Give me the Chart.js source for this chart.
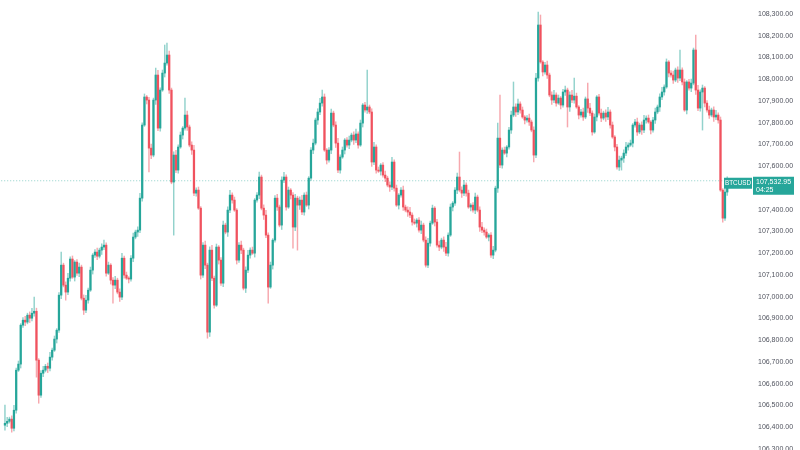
<!DOCTYPE html>
<html>
<head>
<meta charset="utf-8">
<script src="https://cdn.jsdelivr.net/npm/chart.js@4.4.1/dist/chart.umd.min.js"></script>
<style>
  html, body { margin: 0; padding: 0; background: #ffffff; }
  #graphique-btc { display: block; }
</style>
</head>
<body>
<canvas id="graphique-btc" width="800" height="450"></canvas>
<script>
const symbol = "BTCUSD";
const timeLeft = "04:25";

// one candle per index
const opens = [
  106409, 106418, 106427, 106437, 106395, 106478, 106662, 106690, 106869, 106892,
  106883, 106915, 106901, 106924, 106933, 106708, 106547, 106648, 106662, 106680,
  106671, 106722, 106754, 106805, 106846, 107007, 107145, 107053, 107021, 107085,
  107173, 107090, 107159, 107108, 107136, 106993, 106938, 106984, 107030, 107122,
  107191, 107205, 107186, 107214, 107228, 107237, 107108, 107145, 107076, 107053,
  107076, 107021, 106998, 107177, 107099, 107085, 107081, 107177, 107274, 107297,
  107306, 107453, 107789, 107918, 107904, 107683, 107651, 107904, 108019, 107775,
  107950, 108028, 108074, 108111, 107950, 107527, 107651, 107582, 107688, 107743,
  107775, 107835, 107780, 107697, 107674, 107476, 107490, 107407, 107099, 107237,
  107145, 106837, 107214, 107085, 106961, 107228, 107168, 107062, 107329, 107297,
  107398, 107467, 107444, 107398, 107168, 107237, 107214, 107039, 107122, 107191,
  107214, 107200, 107444, 107467, 107550, 107407, 107375, 107283, 107044, 107145,
  107260, 107453, 107412, 107329, 107536, 107550, 107412, 107490, 107467, 107320,
  107453, 107421, 107444, 107389, 107467, 107421, 107545, 107674, 107706, 107812,
  107849, 107890, 107918, 107674, 107628, 107674, 107844, 107789, 107706, 107582,
  107642, 107674, 107720, 107697, 107720, 107743, 107720, 107748, 107697, 107798,
  107881, 107858, 107872, 107849, 107619, 107688, 107582, 107577, 107605, 107559,
  107545, 107513, 107504, 107619, 107499, 107421, 107467, 107490, 107412, 107398,
  107389, 107375, 107343, 107338, 107352, 107306, 107329, 107260, 107145, 107246,
  107338, 107407, 107343, 107237, 107228, 107260, 107228, 107200, 107283, 107412,
  107430, 107490, 107550, 107490, 107476, 107513, 107476, 107412, 107421, 107398,
  107458, 107398, 107320, 107306, 107297, 107274, 107283, 107191, 107214, 107499,
  107729, 107605, 107674, 107660, 107688, 107766, 107835, 107872, 107849, 107886,
  107858, 107826, 107812, 107821, 107803, 107766, 107651, 108005, 108249, 108079,
  108033, 108065, 108019, 107927, 107904, 107927, 107890, 107913, 107881, 107941,
  107950, 107872, 107927, 107904, 107922, 107872, 107835, 107849, 107826, 107909,
  107867, 107844, 107757, 107826, 107918, 107844, 107821, 107844, 107826, 107849,
  107789, 107734, 107688, 107596, 107628, 107637, 107660, 107688, 107697, 107706,
  107789, 107803, 107757, 107789, 107766, 107812, 107821, 107803, 107766, 107812,
  107849, 107872, 107918, 107941, 107964, 108079, 108028, 108019, 107996, 108042,
  108005, 108042, 107987, 107858, 107987, 107959, 107982, 108134, 107950, 107867,
  107941, 107959, 107890, 107858, 107835, 107858, 107826, 107835, 107812, 107490,
  107361, 107481
];
const highs = [
  106501, 106445, 106446, 106452, 106500, 106672, 106704, 106876, 106904, 106910,
  106924, 106930, 106946, 106998, 106947, 106715, 106660, 106680, 106689, 106695,
  106744, 106764, 106819, 106853, 107019, 107205, 107154, 107068, 107107, 107183,
  107187, 107166, 107171, 107154, 107145, 107008, 107006, 107040, 107136, 107198,
  107217, 107223, 107223, 107243, 107260, 107247, 107159, 107152, 107088, 107094,
  107085, 107036, 107199, 107187, 107113, 107092, 107189, 107292, 107306, 107321,
  107475, 107799, 107932, 107925, 107916, 107701, 107913, 108051, 108041, 107960,
  108042, 108157, 108166, 108129, 107959, 107666, 107673, 107698, 107757, 107782,
  107913, 107853, 107789, 107712, 107696, 107500, 107504, 107414, 107249, 107255,
  107154, 107229, 107236, 107095, 107242, 107235, 107180, 107347, 107338, 107413,
  107489, 107477, 107458, 107405, 107249, 107255, 107223, 107137, 107213, 107224,
  107228, 107451, 107479, 107573, 107559, 107422, 107397, 107293, 107159, 107267,
  107465, 107471, 107421, 107551, 107572, 107560, 107504, 107497, 107479, 107471,
  107462, 107459, 107466, 107477, 107481, 107552, 107686, 107724, 107821, 107864,
  107912, 107950, 107932, 107681, 107686, 107862, 107853, 107804, 107728, 107652,
  107688, 107727, 107732, 107738, 107752, 107758, 107770, 107758, 107812, 107888,
  107893, 108042, 107881, 107864, 107710, 107698, 107596, 107612, 107617, 107577,
  107554, 107528, 107641, 107629, 107513, 107474, 107502, 107508, 107421, 107413,
  107411, 107385, 107357, 107359, 107364, 107347, 107338, 107275, 107268, 107348,
  107421, 107414, 107355, 107255, 107269, 107275, 107250, 107293, 107426, 107437,
  107502, 107568, 107665, 107505, 107535, 107523, 107490, 107428, 107433, 107476,
  107467, 107413, 107342, 107316, 107311, 107290, 107295, 107232, 107508, 107798,
  107927, 107684, 107688, 107695, 107778, 107853, 107987, 107887, 107908, 107896,
  107872, 107833, 107833, 107839, 107812, 107781, 108027, 108309, 108295, 108086,
  108077, 108083, 108028, 107942, 107949, 107937, 107927, 107920, 107953, 107968,
  107959, 107942, 107949, 108005, 107936, 107879, 107861, 107867, 107918, 107982,
  107889, 107854, 107840, 107925, 107930, 107862, 107853, 107859, 107871, 107859,
  107803, 107741, 107700, 107646, 107646, 107675, 107710, 107707, 107720, 107796,
  107815, 107821, 107798, 107804, 107834, 107831, 107835, 107810, 107824, 107867,
  107881, 107933, 107963, 107974, 108093, 108086, 108040, 108037, 108051, 108057,
  108134, 108052, 108001, 107994, 107999, 108000, 108143, 108203, 107972, 107951,
  107973, 107966, 107902, 107876, 107867, 107873, 107857, 107845, 107826, 107497,
  107493, 107551
];
const lows = [
  106386, 106402, 106419, 106377, 106383, 106464, 106656, 106672, 106859, 106867,
  106875, 106881, 106889, 106910, 106630, 106510, 106537, 106632, 106654, 106651,
  106659, 106708, 106748, 106787, 106836, 106991, 107045, 106984, 107009, 107071,
  107084, 107072, 107098, 107092, 106985, 106918, 106926, 106970, 107024, 107104,
  107181, 107170, 107178, 107194, 107216, 107094, 107102, 107058, 106970, 107037,
  107013, 106978, 106986, 107085, 107079, 107063, 107071, 107161, 107266, 107277,
  107294, 107439, 107783, 107886, 107573, 107635, 107643, 107884, 107763, 107761,
  107944, 108010, 108064, 107934, 107519, 107283, 107570, 107568, 107682, 107725,
  107765, 107764, 107689, 107654, 107464, 107462, 107401, 107081, 107089, 107129,
  106809, 106817, 107073, 106947, 106955, 107150, 107052, 107046, 107289, 107277,
  107386, 107430, 107392, 107150, 107158, 107198, 107031, 107019, 107110, 107177,
  107194, 107182, 107434, 107451, 107399, 107355, 107271, 106970, 107038, 107127,
  107250, 107396, 107321, 107309, 107524, 107398, 107406, 107449, 107223, 107304,
  107214, 107401, 107377, 107375, 107415, 107403, 107535, 107658, 107698, 107792,
  107837, 107876, 107668, 107610, 107618, 107658, 107781, 107686, 107570, 107568,
  107636, 107656, 107687, 107681, 107712, 107700, 107708, 107683, 107691, 107780,
  107848, 107842, 107841, 107599, 107607, 107568, 107571, 107559, 107549, 107529,
  107505, 107484, 107492, 107485, 107415, 107403, 107457, 107396, 107390, 107369,
  107363, 107329, 107332, 107320, 107296, 107290, 107252, 107136, 107133, 107232,
  107332, 107325, 107227, 107212, 107220, 107208, 107188, 107186, 107277, 107394,
  107420, 107474, 107482, 107456, 107464, 107462, 107406, 107394, 107388, 107382,
  107390, 107300, 107294, 107283, 107268, 107256, 107181, 107175, 107206, 107479,
  107593, 107591, 107654, 107642, 107678, 107750, 107827, 107829, 107837, 107844,
  107820, 107794, 107802, 107787, 107758, 107619, 107639, 107991, 108073, 108015,
  108023, 108003, 107919, 107884, 107892, 107876, 107884, 107863, 107871, 107925,
  107780, 107852, 107892, 107890, 107866, 107817, 107825, 107810, 107818, 107847,
  107832, 107743, 107751, 107808, 107834, 107805, 107813, 107806, 107814, 107775,
  107728, 107670, 107586, 107580, 107582, 107617, 107648, 107674, 107691, 107688,
  107779, 107741, 107749, 107746, 107754, 107798, 107797, 107748, 107756, 107796,
  107841, 107852, 107906, 107927, 107958, 108010, 108009, 107980, 107988, 107985,
  107993, 107973, 107852, 107840, 107949, 107943, 107974, 107930, 107855, 107853,
  107766, 107872, 107848, 107819, 107827, 107806, 107814, 107798, 107484, 107343,
  107351, 107465
];
const closes = [
  106418, 106427, 106437, 106395, 106478, 106662, 106690, 106869, 106892, 106883,
  106915, 106901, 106924, 106933, 106708, 106547, 106648, 106662, 106680, 106671,
  106722, 106754, 106805, 106846, 107007, 107145, 107053, 107021, 107085, 107173,
  107090, 107159, 107108, 107136, 106993, 106938, 106984, 107030, 107122, 107191,
  107205, 107186, 107214, 107228, 107237, 107108, 107145, 107076, 107053, 107076,
  107021, 106998, 107177, 107099, 107085, 107081, 107177, 107274, 107297, 107306,
  107453, 107789, 107918, 107904, 107683, 107651, 107904, 108019, 107775, 107950,
  108028, 108074, 108111, 107950, 107527, 107651, 107582, 107688, 107743, 107775,
  107835, 107780, 107697, 107674, 107476, 107490, 107407, 107099, 107237, 107145,
  106837, 107214, 107085, 106961, 107228, 107168, 107062, 107329, 107297, 107398,
  107467, 107444, 107398, 107168, 107237, 107214, 107039, 107122, 107191, 107214,
  107200, 107444, 107467, 107550, 107407, 107375, 107283, 107044, 107145, 107260,
  107453, 107412, 107329, 107536, 107550, 107412, 107490, 107467, 107320, 107453,
  107421, 107444, 107389, 107467, 107421, 107545, 107674, 107706, 107812, 107849,
  107890, 107918, 107674, 107628, 107674, 107844, 107789, 107706, 107582, 107642,
  107674, 107720, 107697, 107720, 107743, 107720, 107748, 107697, 107798, 107881,
  107858, 107872, 107849, 107619, 107688, 107582, 107577, 107605, 107559, 107545,
  107513, 107504, 107619, 107499, 107421, 107467, 107490, 107412, 107398, 107389,
  107375, 107343, 107338, 107352, 107306, 107329, 107260, 107145, 107246, 107338,
  107407, 107343, 107237, 107228, 107260, 107228, 107200, 107283, 107412, 107430,
  107490, 107550, 107490, 107476, 107513, 107476, 107412, 107421, 107398, 107458,
  107398, 107320, 107306, 107297, 107274, 107283, 107191, 107214, 107499, 107729,
  107605, 107674, 107660, 107688, 107766, 107835, 107872, 107849, 107886, 107858,
  107826, 107812, 107821, 107803, 107766, 107651, 108005, 108249, 108079, 108033,
  108065, 108019, 107927, 107904, 107927, 107890, 107913, 107881, 107941, 107950,
  107872, 107927, 107904, 107922, 107872, 107835, 107849, 107826, 107909, 107867,
  107844, 107757, 107826, 107918, 107844, 107821, 107844, 107826, 107849, 107789,
  107734, 107688, 107596, 107628, 107637, 107660, 107688, 107697, 107706, 107789,
  107803, 107757, 107789, 107766, 107812, 107821, 107803, 107766, 107812, 107849,
  107872, 107918, 107941, 107964, 108079, 108028, 108019, 107996, 108042, 108005,
  108042, 107987, 107858, 107987, 107959, 107982, 108134, 107950, 107867, 107941,
  107959, 107890, 107858, 107835, 107858, 107826, 107835, 107812, 107490, 107361,
  107481, 107532.95
];
const priceTicks = [
  106300, 106400, 106500, 106600, 106700, 106800, 106900, 107000, 107100, 107200, 107300,
  107400, 107500, 107600, 107700, 107800, 107900, 108000, 108100, 108200, 108300
];

const upColor = "#26a69a";
const downColor = "#f0525e";
const upWick = "rgba(38, 166, 154, 0.5)";
const downWick = "rgba(240, 82, 94, 0.5)";

const lastPrice = closes[closes.length - 1];
const lastIndex = closes.length - 1;

function isUp(i) {
    return closes[i] >= opens[i];
}

const wickData = [];
const bodyData = [];
for (let i = 0; i < opens.length; i++) {
    wickData.push({ x: i, y: [lows[i], highs[i]] });
    bodyData.push({ x: i, y: [opens[i], closes[i]] });
}

function formatPrice(v) {
    return v.toLocaleString("en-US", { minimumFractionDigits: 2, maximumFractionDigits: 2 });
}

// label on the right with symbol, last price and countdown
const priceLabel = {
    id: "priceLabel",
    afterDraw(chart) {
        const ctx = chart.ctx;
        const right = chart.chartArea.right;
        const y = chart.scales.y.getPixelForValue(lastPrice);
        ctx.save();
        ctx.fillStyle = upColor;
        ctx.fillRect(right - 28, y - 3, 28, 11);
        ctx.fillRect(right + 1, y - 4, 41, 18);
        ctx.fillStyle = "#ffffff";
        ctx.font = "6.3px 'Liberation Sans', Arial, sans-serif";
        ctx.textBaseline = "middle";
        ctx.textAlign = "center";
        ctx.fillText(symbol, right - 14, y + 2.5);
        ctx.font = "7px 'Liberation Sans', Arial, sans-serif";
        ctx.textAlign = "left";
        ctx.fillText(formatPrice(lastPrice), right + 4, y + 1);
        ctx.fillText(timeLeft, right + 4, y + 9);
        ctx.restore();
    }
};

const data = {
    datasets: [
        {
            type: "bar",
            label: "bodies",
            data: bodyData,
            backgroundColor: ctx => isUp(ctx.dataIndex) ? upColor : downColor,
            barThickness: 1.6,
            minBarLength: 1,
            borderWidth: 0,
            grouped: false,
            order: 1
        },
        {
            type: "bar",
            label: "wicks",
            data: wickData,
            backgroundColor: ctx => isUp(ctx.dataIndex) ? upWick : downWick,
            barThickness: 0.8,
            borderWidth: 0,
            grouped: false,
            order: 2
        },
        {
            type: "line",
            label: "last",
            data: [{ x: -3, y: lastPrice }, { x: lastIndex, y: lastPrice }],
            borderColor: "rgba(38, 166, 154, 0.5)",
            borderWidth: 1,
            borderDash: [1, 2],
            pointRadius: 0,
            order: 3
        }
    ]
};

const config = {
    type: "bar",
    data: data,
    plugins: [priceLabel],
    options: {
        responsive: false,
        animation: false,
        devicePixelRatio: 1,
        layout: { padding: 0 },
        plugins: {
            legend: { display: false },
            tooltip: { enabled: false }
        },
        scales: {
            x: {
                type: "linear",
                display: false,
                offset: false,
                grid: { offset: false },
                min: -2.2,
                max: 332
            },
            y: {
                position: "right",
                min: 106295,
                max: 108364,
                grid: { display: false, drawTicks: false },
                border: { display: false },
                afterBuildTicks: scale => {
                    scale.ticks = priceTicks.map(v => ({ value: v }));
                },
                afterFit: scale => {
                    scale.width = 48;
                    scale.paddingTop = 0;
                    scale.paddingBottom = 0;
                },
                ticks: {
                    padding: 6,
                    color: "#50535e",
                    font: { family: "'Liberation Sans', Arial, sans-serif", size: 7 },
                    callback: v => formatPrice(v)
                }
            }
        }
    }
};

const graphique = new Chart(document.querySelector("#graphique-btc"), config);
</script>
</body>
</html>
